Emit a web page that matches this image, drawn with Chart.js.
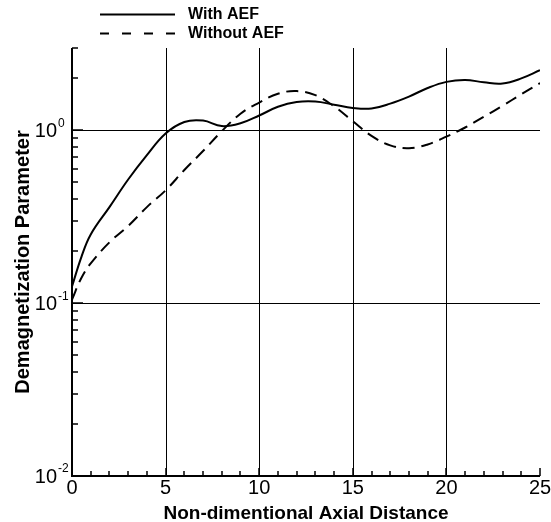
<!DOCTYPE html>
<html>
<head>
<meta charset="utf-8">
<script src="https://cdn.jsdelivr.net/npm/chart.js@4.4.1/dist/chart.umd.min.js"></script>
<style>
  html, body { margin: 0; padding: 0; background: #fff; }
  #wrap { width: 551px; height: 522px; position: relative; }
</style>
</head>
<body>
<div id="wrap"><canvas id="chart"></canvas></div>
<script>
'use strict';

// axial positions where the curves were sampled
const axialPos = [0, 0.5, 1, 2, 3, 4, 5, 6, 7, 8, 9, 10, 11, 12, 13, 14, 15, 16, 17, 18, 19, 20, 21, 22, 23, 24, 25];
const withAef = [0.125, 0.185, 0.25, 0.36, 0.52, 0.72, 0.96, 1.12, 1.14, 1.06, 1.10, 1.22, 1.37, 1.46, 1.47, 1.41, 1.35, 1.34, 1.43, 1.57, 1.76, 1.91, 1.96, 1.90, 1.87, 2.00, 2.23];
const withoutAef = [0.105, 0.14, 0.17, 0.225, 0.28, 0.36, 0.45, 0.59, 0.76, 0.99, 1.25, 1.45, 1.63, 1.69, 1.60, 1.38, 1.13, 0.93, 0.82, 0.79, 0.83, 0.92, 1.04, 1.20, 1.39, 1.62, 1.88];

const xMajor = [0, 5, 10, 15, 20, 25];
const xGrid = [5, 10, 15, 20];
const yDecades = [{ v: 0.01, exp: '-2' }, { v: 0.1, exp: '-1' }, { v: 1, exp: '0' }];
const yGrid = [0.1, 1];

const FONT = "'Liberation Sans', Arial, sans-serif";

function pts(ys) {
	return axialPos.map((x, i) => ({ x, y: ys[i] }));
}

// axes, ticks and labels drawn by hand (Tecplot look)
const frame = {
	id: 'frame',
	beforeDatasetsDraw(chart) {
		const { ctx, chartArea: a, scales: { x, y } } = chart;
		ctx.save();
		ctx.strokeStyle = '#000';
		ctx.lineWidth = 1;
		ctx.beginPath();
		xGrid.forEach(v => {
			const px = Math.round(x.getPixelForValue(v)) + 0.5;
			ctx.moveTo(px, a.top); ctx.lineTo(px, a.bottom);
		});
		yGrid.forEach(v => {
			const py = Math.round(y.getPixelForValue(v)) + 0.5;
			ctx.moveTo(a.left, py); ctx.lineTo(a.right, py);
		});
		ctx.stroke();
		ctx.restore();
	},
	afterDraw(chart) {
		const { ctx, chartArea: a, scales: { x, y } } = chart;
		ctx.save();
		ctx.strokeStyle = '#000';
		ctx.fillStyle = '#000';

		// axis lines
		ctx.lineWidth = 2;
		ctx.beginPath();
		ctx.moveTo(a.left, a.top); ctx.lineTo(a.left, a.bottom);
		ctx.lineTo(a.right, a.bottom);
		ctx.stroke();

		// x ticks
		ctx.lineWidth = 1.5;
		ctx.beginPath();
		for (let v = 0; v <= 25; v++) {
			const px = Math.round(x.getPixelForValue(v));
			const len = v % 5 === 0 ? 8 : 5;
			ctx.moveTo(px, a.bottom); ctx.lineTo(px, a.bottom - len);
		}
		// y ticks
		yDecades.forEach(d => {
			for (let m = 1; m <= 9; m++) {
				const v = d.v * m;
				if (v > y.max + 1e-9) break;
				const py = Math.round(y.getPixelForValue(v));
				const len = m === 1 ? 11 : 6;
				ctx.moveTo(a.left, py); ctx.lineTo(a.left + len, py);
			}
		});
		ctx.stroke();

		// x tick labels
		ctx.font = '20px ' + FONT;
		ctx.textAlign = 'center';
		ctx.textBaseline = 'alphabetic';
		xMajor.forEach(v => {
			ctx.fillText(String(v), x.getPixelForValue(v), a.bottom + 18);
		});

		// y tick labels with superscript exponents
		yDecades.forEach(d => {
			const py = y.getPixelForValue(d.v);
			ctx.font = '20px ' + FONT;
			ctx.textAlign = 'right';
			ctx.textBaseline = 'middle';
			ctx.fillText('10', 57, py + 1);
			ctx.font = '12px ' + FONT;
			ctx.textAlign = 'left';
			ctx.fillText(d.exp, 58, py - 7);
		});

		// axis titles
		ctx.font = 'bold 19px ' + FONT;
		ctx.textAlign = 'center';
		ctx.textBaseline = 'alphabetic';
		ctx.fillText('Non-dimentional Axial Distance', (a.left + a.right) / 2, 519);
		ctx.save();
		ctx.translate(29, 262);
		ctx.rotate(-Math.PI / 2);
		ctx.font = 'bold 20px ' + FONT;
		ctx.fillText('Demagnetization Parameter', 0, 0);
		ctx.restore();

		// legend
		ctx.lineWidth = 2;
		ctx.beginPath();
		ctx.moveTo(100, 14.5); ctx.lineTo(175, 14.5);
		ctx.stroke();
		ctx.setLineDash([9, 13]);
		ctx.beginPath();
		ctx.moveTo(100, 33.5); ctx.lineTo(175, 33.5);
		ctx.stroke();
		ctx.setLineDash([]);
		ctx.font = 'bold 16px ' + FONT;
		ctx.textAlign = 'left';
		ctx.textBaseline = 'middle';
		ctx.fillText('With AEF', 188, 15);
		ctx.fillText('Without AEF', 188, 34);
		ctx.restore();
	}
};

new Chart(document.getElementById('chart'), {
	type: 'line',
	data: {
		datasets: [
			{ label: 'With AEF', data: pts(withAef), borderColor: '#000', borderWidth: 2, pointRadius: 0, tension: 0.4 },
			{ label: 'Without AEF', data: pts(withoutAef), borderColor: '#000', borderWidth: 2, borderDash: [12, 7], pointRadius: 0, tension: 0.4 }
		]
	},
	options: {
		responsive: true,
		maintainAspectRatio: false,
		animation: false,
		events: [],
		layout: { padding: { left: 72, right: 11, top: 48, bottom: 46 } },
		plugins: { legend: { display: false }, tooltip: { enabled: false } },
		scales: {
			x: { type: 'linear', min: 0, max: 25, display: false },
			y: { type: 'logarithmic', min: 0.01, max: 3, display: false }
		}
	},
	plugins: [frame]
});
</script>
</body>
</html>
